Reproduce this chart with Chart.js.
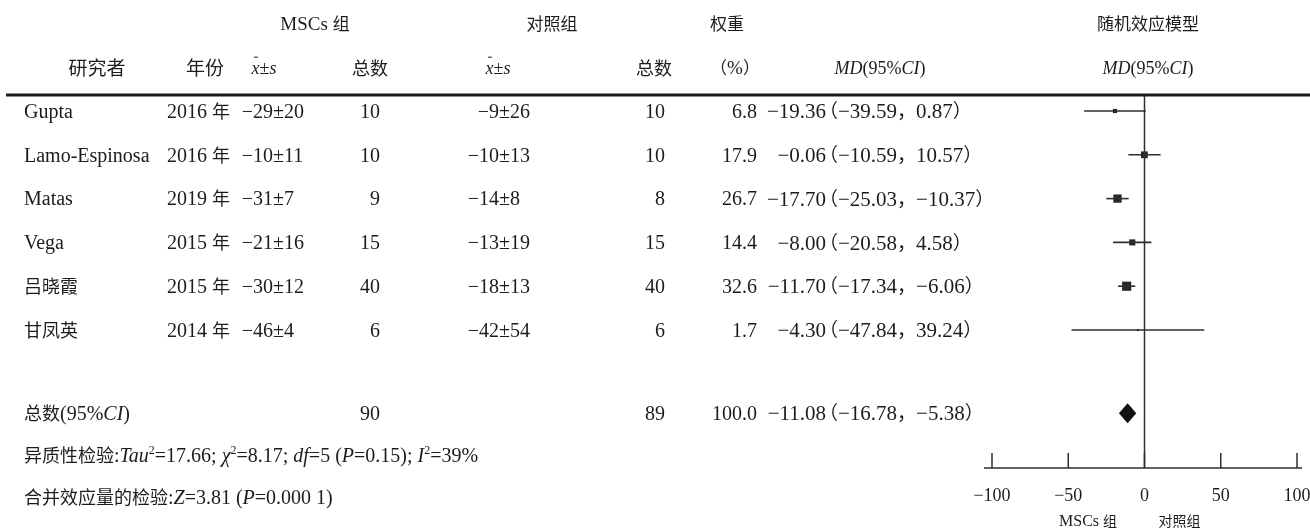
<!DOCTYPE html>
<html>
<head>
<meta charset="utf-8">
<script src="https://cdn.jsdelivr.net/npm/chart.js@4.4.1/dist/chart.umd.min.js"></script>
<style>
  html, body { margin: 0; padding: 0; background: #fff; }
  #c { display: block; }
</style>
</head>
<body>
<canvas id="c" width="1310" height="529"></canvas>
<script>
// ---------------- DATA ----------------
const studies = ['Gupta', 'Lamo-Espinosa', 'Matas', 'Vega', '吕晓霞', '甘凤英'];
const years = ['2016 年', '2016 年', '2019 年', '2015 年', '2015 年', '2014 年'];
const mscMean = ['−29', '−10', '−31', '−21', '−30', '−46'];
const mscSd = ['20', '11', '7', '16', '12', '4'];
const mscTotal = ['10', '10', '9', '15', '40', '6'];
const ctrlMean = ['−9', '−10', '−14', '−13', '−18', '−42'];
const ctrlSd = ['26', '13', '8', '19', '13', '54'];
const ctrlTotal = ['10', '10', '8', '15', '40', '6'];
const weights = [6.8, 17.9, 26.7, 14.4, 32.6, 1.7];
const md = [-19.36, -0.06, -17.70, -8.00, -11.70, -4.30];
const ciLow = [-39.59, -10.59, -25.03, -20.58, -17.34, -47.84];
const ciHigh = [0.87, 10.57, -10.37, 4.58, -6.06, 39.24];
const pooledMd = -11.08;
const pooledLow = -16.78;
const pooledHigh = -5.38;
const pooledMscTotal = '90';
const pooledCtrlTotal = '89';
const pooledWeight = '100.0';
const xTicks = [-100, -50, 0, 50, 100];
const axisSideLabels = ['MSCs 组', '对照组'];

// ---------------- HELPERS ----------------
const LATIN = '"Liberation Serif", serif';
const CJK = '"Noto Sans CJK SC", sans-serif';
const FS = 20;
const TXT = '#1c1c1c';
const LINE = '#2e2e2e';
const fmt = v => (v < 0 ? '−' : '') + Math.abs(v).toFixed(2);
const isCJK = ch => /[\u2E80-\u9FFF\u3000-\u303F\uFF00-\uFFEF]/.test(ch);

function splitRuns(t) {
  const runs = [];
  for (const ch of t) {
    const c = isCJK(ch);
    if (runs.length && runs[runs.length - 1].c === c) runs[runs.length - 1].t += ch;
    else runs.push({ t: ch, c });
  }
  return runs;
}
function fontFor(flags, size, cjk) {
  let s = flags.includes('s') ? Math.round(size * 0.6) : size;
  if (cjk) return Math.round(s - 2) + 'px ' + CJK;
  return (flags.includes('i') ? 'italic ' : '') + s + 'px ' + LATIN;
}
// draws mixed Latin / CJK text, vertically centred on y
function drawRich(ctx, parts, x, y, align, size) {
  size = size || FS;
  const runs = [];
  parts.map(p => typeof p === 'string' ? [p, ''] : p).forEach(([t, f]) => {
    splitRuns(t).forEach(r => runs.push({ t: r.t, c: r.c, f }));
  });
  let total = 0;
  runs.forEach(r => { ctx.font = fontFor(r.f, size, r.c); r.w = ctx.measureText(r.t).width; total += r.w; });
  let cx = align === 'center' ? x - total / 2 : align === 'right' ? x - total : x;
  const base = y + size * 0.34;
  ctx.textBaseline = 'alphabetic';
  ctx.textAlign = 'left';
  ctx.fillStyle = TXT;
  runs.forEach(r => {
    ctx.font = fontFor(r.f, size, r.c);
    const yy = r.f.includes('s') ? base - size * 0.4 : base;
    ctx.fillText(r.t, cx, yy);
    if (r.f.includes('b')) {
      ctx.save();
      ctx.strokeStyle = TXT; ctx.lineWidth = 1;
      ctx.beginPath();
      ctx.moveTo(cx + r.w * 0.3, y - size * 0.6);
      ctx.lineTo(cx + r.w * 0.8, y - size * 0.6);
      ctx.stroke();
      ctx.restore();
    }
    cx += r.w;
  });
  return total;
}
function line(ctx, x1, y1, x2, y2, w, c) {
  ctx.save(); ctx.strokeStyle = c || LINE; ctx.lineWidth = w;
  ctx.beginPath(); ctx.moveTo(x1, y1); ctx.lineTo(x2, y2); ctx.stroke(); ctx.restore();
}
// "est(lo, hi)" with full-width punctuation, estimate right-aligned at ex
function drawCI(ctx, est, lo, hi, ex, y) {
  const size = 21;
  drawRich(ctx, [fmt(est)], ex, y, 'right', size);
  drawRich(ctx, ['（' + fmt(lo) + '，' + fmt(hi) + '）'], ex - 7, y, 'left', size);
}

const rowVal = i => i + 1;
const pooledRowVal = 7.9;

// ---------------- PLUGIN (table + axis decorations) ----------------
const forestPlugin = {
  id: 'forest',
  afterDraw(chart) {
    const ctx = chart.ctx;
    const xs = chart.scales.x, ys = chart.scales.y;
    const area = chart.chartArea;
    const ruleY = 95;

    // header line 1
    drawRich(ctx, ['MSCs 组'], 315, 24, 'center', 19);
    drawRich(ctx, ['对照组'], 552, 24, 'center', 19);
    drawRich(ctx, ['权重'], 727, 24, 'center', 19);
    drawRich(ctx, ['随机效应模型'], 1148, 24, 'center', 19);
    // header line 2
    const h2 = 68;
    drawRich(ctx, ['研究者'], 97, h2, 'center', 21);
    drawRich(ctx, ['年份'], 205, h2, 'center', 21);
    drawRich(ctx, [['x', 'ib'], '±', ['s', 'i']], 264, h2, 'center', 18);
    drawRich(ctx, ['总数'], 370, h2, 'center', 20);
    drawRich(ctx, [['x', 'ib'], '±', ['s', 'i']], 498, h2, 'center', 18);
    drawRich(ctx, ['总数'], 654, h2, 'center', 20);
    drawRich(ctx, ['（%）'], 735, h2, 'center', 19);
    drawRich(ctx, [['MD', 'i'], '(95%', ['CI', 'i'], ')'], 880, h2, 'center', 18);
    drawRich(ctx, [['MD', 'i'], '(95%', ['CI', 'i'], ')'], 1148, h2, 'center', 18);

    // rule
    line(ctx, 6, ruleY, 1310, ruleY, 3, '#1a1a1a');

    // zero line
    const x0 = xs.getPixelForValue(0);
    line(ctx, x0, ruleY + 1, x0, area.bottom, 1.5);

    // axis with upward ticks
    const axY = area.bottom;
    line(ctx, xs.getPixelForValue(xTicks[0]) - 8, axY, xs.getPixelForValue(xTicks[xTicks.length - 1]) + 5, axY, 1.5);
    xTicks.forEach(v => { const px = xs.getPixelForValue(v); line(ctx, px, axY - 15, px, axY, 1.5); });

    drawRich(ctx, [axisSideLabels[0]], xs.getPixelForValue(-37), 521, 'center', 16);
    drawRich(ctx, [axisSideLabels[1]], xs.getPixelForValue(23), 521, 'center', 16);

    // study rows
    const mscPm = 273, ctrlPm = 499, estRight = 826;
    studies.forEach((s, i) => {
      const y = ys.getPixelForValue(rowVal(i));
      drawRich(ctx, [s], 24, y, 'left');
      drawRich(ctx, [years[i]], 167, y, 'left');
      drawRich(ctx, [mscMean[i]], mscPm, y, 'right');
      drawRich(ctx, ['±' + mscSd[i]], mscPm, y, 'left');
      drawRich(ctx, [mscTotal[i]], 380, y, 'right');
      drawRich(ctx, [ctrlMean[i]], ctrlPm, y, 'right');
      drawRich(ctx, ['±' + ctrlSd[i]], ctrlPm, y, 'left');
      drawRich(ctx, [ctrlTotal[i]], 665, y, 'right');
      drawRich(ctx, [weights[i].toFixed(1)], 757, y, 'right');
      drawCI(ctx, md[i], ciLow[i], ciHigh[i], estRight, y);
    });

    // pooled row
    const yp = ys.getPixelForValue(pooledRowVal);
    drawRich(ctx, ['总数(95%', ['CI', 'i'], ')'], 24, yp, 'left');
    drawRich(ctx, [pooledMscTotal], 380, yp, 'right');
    drawRich(ctx, [pooledCtrlTotal], 665, yp, 'right');
    drawRich(ctx, [pooledWeight], 757, yp, 'right');
    drawCI(ctx, pooledMd, pooledLow, pooledHigh, estRight, yp);

    // diamond
    const dl = xs.getPixelForValue(pooledLow), dr = xs.getPixelForValue(pooledHigh), dm = xs.getPixelForValue(pooledMd);
    ctx.save();
    ctx.fillStyle = '#111';
    ctx.beginPath();
    ctx.moveTo(dl, yp); ctx.lineTo(dm, yp - 10); ctx.lineTo(dr, yp); ctx.lineTo(dm, yp + 10); ctx.closePath();
    ctx.fill();
    ctx.restore();

    // footer
    drawRich(ctx, ['异质性检验:', ['Tau', 'i'], ['2', 's'], '=17.66; ', ['χ', 'i'], ['2', 's'], '=8.17; ', ['df', 'i'], '=5 (', ['P', 'i'], '=0.15); ', ['I', 'i'], ['2', 's'], '=39%'], 24, 455, 'left');
    drawRich(ctx, ['合并效应量的检验:', ['Z', 'i'], '=3.81 (', ['P', 'i'], '=0.000 1)'], 24, 497, 'left');
  }
};

// ---------------- DATASETS ----------------
const datasets = [];
studies.forEach((s, i) => {
  datasets.push({
    type: 'line',
    data: [{ x: ciLow[i], y: rowVal(i) }, { x: ciHigh[i], y: rowVal(i) }],
    borderColor: LINE, borderWidth: 1.6, pointRadius: 0, fill: false
  });
});
datasets.push({
  type: 'scatter',
  data: md.map((m, i) => ({ x: m, y: rowVal(i) })),
  pointStyle: 'rect',
  pointRadius: weights.map(w => 1.6 * Math.sqrt(w) / Math.SQRT2),
  backgroundColor: '#262626', borderWidth: 0
});

new Chart(document.getElementById('c'), {
  type: 'scatter',
  data: { datasets },
  options: {
    responsive: false,
    animation: false,
    events: [],
    layout: { padding: { left: 992, right: 13, top: 95, bottom: 0 } },
    plugins: { legend: { display: false }, tooltip: { enabled: false } },
    scales: {
      x: {
        type: 'linear', min: xTicks[0], max: xTicks[xTicks.length - 1],
        afterBuildTicks: s => { s.ticks = xTicks.map(v => ({ value: v })); },
        afterFit: s => { s.height = 61; s.paddingLeft = 0; s.paddingRight = 0; },
        grid: { display: false, drawTicks: false },
        border: { display: false },
        ticks: {
          padding: 17, autoSkip: false, maxRotation: 0, color: TXT,
          font: { family: LATIN, size: 18 },
          callback: v => (v < 0 ? '−' + Math.abs(v) : String(v))
        }
      },
      y: { type: 'linear', reverse: true, min: 0.635, max: 9.15, display: false }
    }
  },
  plugins: [forestPlugin]
});
</script>
</body>
</html>
